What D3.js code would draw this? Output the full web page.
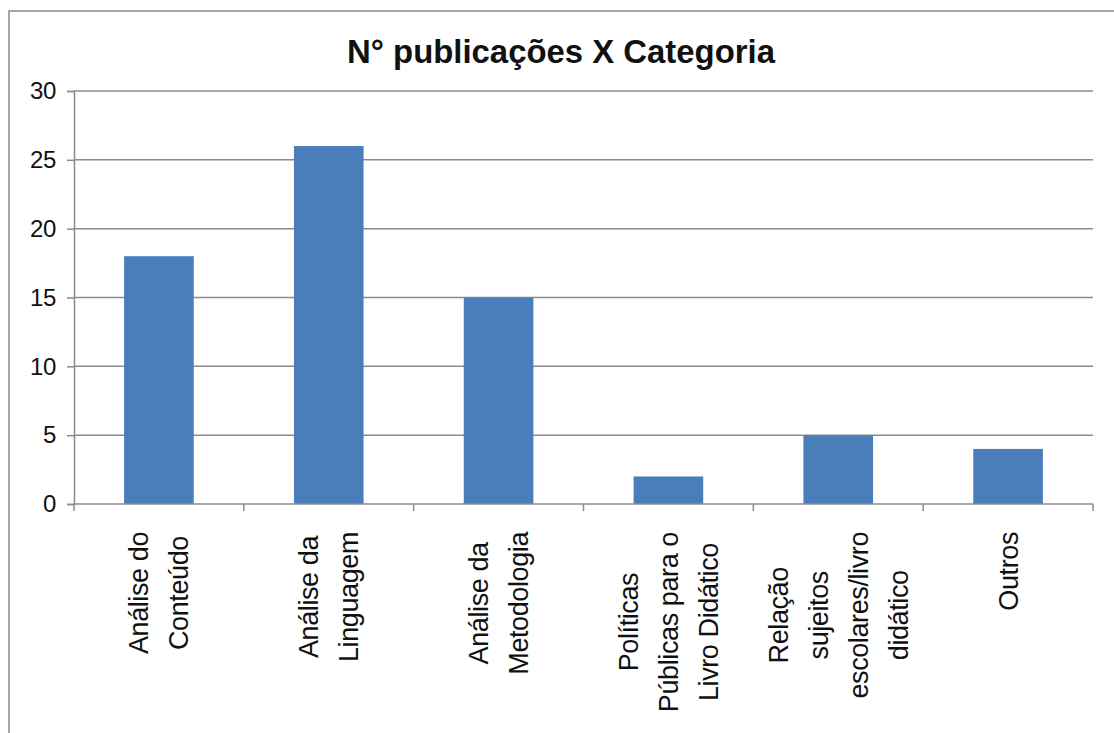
<!DOCTYPE html>
<html>
<head>
<meta charset="utf-8">
<script src="https://cdn.jsdelivr.net/npm/d3@7"></script>
<style>
  html, body { margin: 0; padding: 0; background: #fff; }
  svg { display: block; }
</style>
</head>
<body>
<svg id="chart" width="1114" height="733"></svg>
<script>
const categories = ["Análise do Conteúdo", "Análise da Linguagem", "Análise da Metodologia",
  "Políticas Públicas para o Livro Didático", "Relação sujeitos escolares/livro didático", "Outros"];
const labelLines = [
  ["Análise do", "Conteúdo"],
  ["Análise da", "Linguagem"],
  ["Análise da", "Metodologia"],
  ["Políticas", "Públicas para o", "Livro Didático"],
  ["Relação", "sujeitos", "escolares/livro", "didático"],
  ["Outros"]
];
const values = [18, 26, 15, 2, 5, 4];
const yTicks = [0, 5, 10, 15, 20, 25, 30];
const title = "N° publicações X Categoria";

const svg = d3.select("#chart");
const font = "'Liberation Sans', Arial, sans-serif";
const margin = { left: 74, right: 1093, top: 91, bottom: 504 };

// outer frame
svg.append("path")
  .attr("d", "M9,733 L9,11 L1114,11")
  .attr("fill", "none").attr("stroke", "#a6a6a6").attr("stroke-width", 2);

const x = d3.scaleBand().domain(categories)
  .range([margin.left, margin.right]).paddingInner(0.59).paddingOuter(0.295);
const y = d3.scaleLinear().domain([0, 30]).range([margin.bottom, margin.top]);

// gridlines
svg.append("g").selectAll("line").data(yTicks.filter(d => d > 0)).join("line")
  .attr("x1", margin.left).attr("x2", margin.right)
  .attr("y1", d => y(d)).attr("y2", d => y(d))
  .attr("stroke", "#8c8c8c").attr("stroke-width", 1.5);

// bars
svg.append("g").selectAll("rect").data(values).join("rect")
  .attr("x", (d, i) => x(categories[i]))
  .attr("width", x.bandwidth())
  .attr("y", d => y(d))
  .attr("height", d => y(0) - y(d))
  .attr("fill", "#4a7ebb");

// y axis
const yAxis = svg.append("g").attr("transform", `translate(${margin.left},0)`)
  .call(d3.axisLeft(y).tickValues(yTicks).tickSize(7).tickPadding(11));
yAxis.select(".domain").attr("stroke", "#8c8c8c").attr("stroke-width", 1.5);
yAxis.selectAll(".tick line").attr("stroke", "#8c8c8c").attr("stroke-width", 1.5);
yAxis.selectAll(".tick text").attr("font-family", font).attr("font-size", 24)
  .attr("fill", "#111").attr("letter-spacing", -0.3);

// x axis (category boundaries as ticks)
const boundaries = d3.range(categories.length + 1)
  .map(i => margin.left + i * (margin.right - margin.left) / categories.length);
svg.append("line").attr("x1", margin.left).attr("x2", margin.right)
  .attr("y1", y(0)).attr("y2", y(0)).attr("stroke", "#8c8c8c").attr("stroke-width", 1.5);
svg.append("g").selectAll("line").data(boundaries).join("line")
  .attr("x1", d => d).attr("x2", d => d)
  .attr("y1", y(0)).attr("y2", y(0) + 7)
  .attr("stroke", "#8c8c8c").attr("stroke-width", 1.5);

// x labels rotated
const lineGap = 40;
const fs = 27;
labelLines.forEach((lines, i) => {
  const cx = x(categories[i]) + x.bandwidth() / 2;
  const g = svg.append("g");
  const texts = lines.map((t, j) => {
    const lx = cx + (j - (lines.length - 1) / 2) * lineGap + fs * 0.35;
    return g.append("text").text(t)
      .attr("font-family", font).attr("font-size", fs)
      .attr("letter-spacing", -0.4).attr("fill", "#111")
      .attr("text-anchor", "middle")
      .attr("data-lx", lx);
  });
  const maxW = d3.max(texts, t => t.node().getComputedTextLength());
  const cy = 532 + maxW / 2;
  texts.forEach(t => {
    const lx = +t.attr("data-lx");
    t.attr("transform", `translate(${lx},${cy}) rotate(-90)`);
  });
});

// title
svg.append("text").text(title)
  .attr("x", 561).attr("y", 63)
  .attr("text-anchor", "middle")
  .attr("font-family", font).attr("font-weight", "bold")
  .attr("font-size", 33).attr("fill", "#111")
  .attr("textLength", 428).attr("lengthAdjust", "spacingAndGlyphs");
</script>
</body>
</html>
